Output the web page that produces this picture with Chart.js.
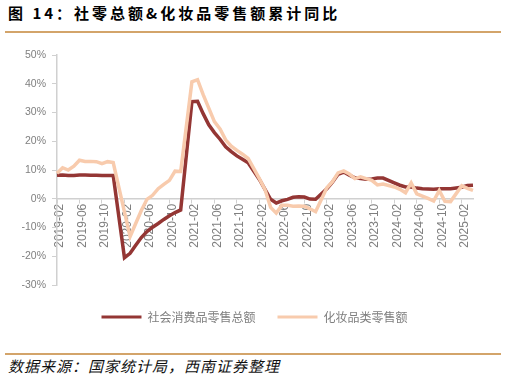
<!DOCTYPE html>
<html>
<head>
<meta charset="utf-8">
<script src="https://cdn.jsdelivr.net/npm/chart.js@4.4.1/dist/chart.umd.min.js"></script>
<style>
  html, body { margin: 0; padding: 0; background: #fff; }
  body { width: 507px; height: 377px; position: relative; overflow: hidden; font-family: "Noto Sans CJK SC", sans-serif; }
  #title { position: absolute; left: 8px; top: 4px; font-size: 15px; font-weight: bold; letter-spacing: 3px; color: #000; line-height: 18px; white-space: nowrap; }
  .rule { position: absolute; left: 5px; width: 496px; height: 2px; background: #D3A46A; }
  #box { position: absolute; left: 0; top: 35px; width: 507px; height: 294px; }
  #source { position: absolute; left: 8px; top: 357px; font-size: 15px; font-style: italic; letter-spacing: 1px; color: #111; line-height: 18px; white-space: nowrap; }
</style>
</head>
<body>
<div id="title">图 14：社零总额&amp;化妆品零售额累计同比</div>
<div class="rule" style="top:31px"></div>
<div id="box"><canvas id="chart" width="507" height="294"></canvas></div>
<div class="rule" style="top:353px"></div>
<div id="source">数据来源：国家统计局，西南证券整理</div>
<script>
// months, 2019-02 .. 2025-04 (January has no separate figure)
var months = [
  '2019-02','2019-03','2019-04','2019-05','2019-06','2019-07','2019-08','2019-09','2019-10','2019-11','2019-12',
  '2020-01','2020-02','2020-03','2020-04','2020-05','2020-06','2020-07','2020-08','2020-09','2020-10','2020-11','2020-12',
  '2021-01','2021-02','2021-03','2021-04','2021-05','2021-06','2021-07','2021-08','2021-09','2021-10','2021-11','2021-12',
  '2022-01','2022-02','2022-03','2022-04','2022-05','2022-06','2022-07','2022-08','2022-09','2022-10','2022-11','2022-12',
  '2023-01','2023-02','2023-03','2023-04','2023-05','2023-06','2023-07','2023-08','2023-09','2023-10','2023-11','2023-12',
  '2024-01','2024-02','2024-03','2024-04','2024-05','2024-06','2024-07','2024-08','2024-09','2024-10','2024-11','2024-12',
  '2025-01','2025-02','2025-03','2025-04'
];

// 社会消费品零售总额 累计同比 (%)
var retailTotal = [
  8.2, 8.3, 8.1, 8.1, 8.3, 8.3, 8.2, 8.2, 8.1, 8.1, 8.1,
  null, -20.5, -19.0, -16.2, -13.5, -11.4, -9.9, -8.6, -7.2, -5.9, -4.8, -3.9,
  null, 33.8, 33.9, 29.6, 25.7, 23.0, 20.7, 18.1, 16.4, 14.9, 13.7, 12.5,
  null, 6.7, 3.3, -0.2, -1.5, -0.7, -0.2, 0.5, 0.7, 0.6, -0.1, -0.2,
  null, 3.5, 5.8, 8.5, 9.3, 8.2, 7.3, 7.0, 6.8, 6.9, 7.2, 7.2,
  null, 5.5, 4.7, 4.1, 4.1, 3.7, 3.5, 3.4, 3.3, 3.5, 3.5, 3.5,
  null, 4.0, 4.6, 4.7
];

// 化妆品类零售额 累计同比 (%)
var cosmetics = [
  8.9, 10.8, 10.0, 11.3, 13.4, 13.0, 13.0, 12.9, 12.2, 12.9, 12.6,
  null, null, -13.2, -8.6, -4.1, -0.2, 1.2, 3.5, 5.0, 6.4, 9.6, 9.5,
  null, 40.7, 41.4, 36.2, 31.5, 26.8, 24.3, 20.5, 18.3, 16.8, 15.5, 14.0,
  null, 7.0, 3.2, -3.0, -5.0, -2.3, -2.3, -2.6, -2.5, -2.6, -3.5, -4.5,
  null, 3.8, 5.9, 9.0, 9.7, 8.6, 7.0, 7.6, 7.0, 6.4, 4.8, 5.1,
  null, 4.1, 3.3, 2.1, 5.5, 1.7, 0.9, 0.1, -0.8, 2.9, -0.9, -1.0,
  null, 4.5, 3.6, 2.9
];

var seriesNames = ['社会消费品零售总额', '化妆品类零售额'];
var yMin = -30, yMax = 50, yStep = 10;
var labelEvery = 4;

var redColor = '#943634';
var peachColor = '#F8CBAD';
var axisColor = '#d0d0d0';
var textColor = '#7f7f7f';

// the original legend sits a bit right of the canvas centre and a bit lower
var legendShift = {
  id: 'legendShift',
  afterLayout: function(c) {
    c.legend.left += 18;
    c.legend.right += 18;
    c.legend.top += 4;
    c.legend.bottom += 4;
  }
};

var ctx = document.getElementById('chart');
var chart = new Chart(ctx, {
  type: 'line',
  data: {
    labels: months,
    datasets: [{
      label: seriesNames[0],
      data: retailTotal,
      borderColor: redColor,
      backgroundColor: redColor,
      borderWidth: 3.5,
      pointRadius: 0,
      spanGaps: true,
      tension: 0,
      order: 1
    }, {
      label: seriesNames[1],
      data: cosmetics,
      borderColor: peachColor,
      backgroundColor: peachColor,
      borderWidth: 3.5,
      pointRadius: 0,
      spanGaps: true,
      tension: 0,
      order: 0
    }]
  },
  plugins: [legendShift],
  options: {
    responsive: false,
    animation: false,
    layout: { padding: { top: 20, right: 34, left: 0, bottom: 0 } },
    plugins: {
      tooltip: { enabled: false },
      legend: {
        position: 'bottom',
        labels: {
          boxWidth: 40,
          boxHeight: 3,
          padding: 22,
          color: textColor,
          font: { family: 'Noto Sans CJK SC', size: 12 },
          sort: function(a, b) { return a.datasetIndex - b.datasetIndex; },
          generateLabels: function(c) {
            return Chart.defaults.plugins.legend.labels.generateLabels(c).map(function(item) {
              item.lineWidth = 0;
              return item;
            });
          }
        }
      }
    },
    scales: {
      x: {
        type: 'category',
        position: { y: 0 },
        offset: false,
        grid: {
          drawOnChartArea: false,
          tickLength: 4,
          color: function(c) { return c.index % labelEvery === 0 ? axisColor : 'rgba(0,0,0,0)'; }
        },
        border: { color: axisColor, width: 1.5 },
        ticks: {
          autoSkip: false,
          minRotation: 90,
          maxRotation: 90,
          padding: 1,
          labelOffset: 3,
          color: textColor,
          font: { family: 'Liberation Sans', size: 12 },
          callback: function(v, i) { return i % labelEvery === 0 ? this.getLabelForValue(v) : ''; }
        }
      },
      y: {
        min: yMin,
        max: yMax,
        afterFit: function(scale) { scale.width = 57; },
        grid: { drawOnChartArea: false, tickLength: 5, color: axisColor },
        border: { color: axisColor, width: 1.5 },
        ticks: {
          stepSize: yStep,
          padding: 6,
          color: textColor,
          font: { family: 'Liberation Sans', size: 10.5 },
          callback: function(v) { return v + '%'; }
        }
      }
    }
  }
});
</script>
</body>
</html>
